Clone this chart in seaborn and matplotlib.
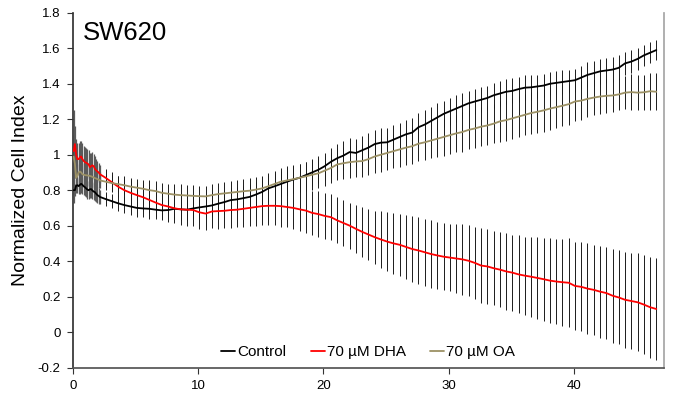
import numpy as np
import pandas as pd
import seaborn as sns
import matplotlib.pyplot as plt
from matplotlib.ticker import FuncFormatter, MultipleLocator

sns.set_theme(context='notebook', style='ticks')
plt.rcParams['font.family'] = ['Liberation Sans', 'DejaVu Sans']
plt.rcParams['axes.unicode_minus'] = False
plt.rcParams['text.color'] = 'black'
plt.rcParams['axes.labelcolor'] = 'black'

# first ~2 h: fast sweeps, afterwards one sweep every 30 min
time_early = [0.05, 0.15, 0.25, 0.35, 0.45, 0.55, 0.65, 0.75, 0.85, 0.95, 1.05,
              1.15, 1.25, 1.35, 1.45, 1.55, 1.65, 1.75, 1.85, 1.95, 2.05, 2.15]
time_late = np.arange(89) * 0.5 + 2.6

control_early = [0.80, 0.80, 0.825, 0.828, 0.823, 0.83, 0.836, 0.83, 0.822, 0.817, 0.81,
                 0.803, 0.80, 0.805, 0.806, 0.798, 0.792, 0.789, 0.78, 0.772, 0.768, 0.762]
dha_early = [1.02, 1.06, 1.00, 0.975, 0.975, 0.985, 0.99, 0.975, 0.965, 0.958, 0.955,
             0.95, 0.945, 0.93, 0.935, 0.94, 0.935, 0.92, 0.912, 0.905, 0.90, 0.89]
oa_early = [0.99, 0.95, 0.87, 0.88, 0.90, 0.905, 0.90, 0.89, 0.887, 0.885, 0.884,
            0.883, 0.882, 0.88, 0.878, 0.875, 0.872, 0.868, 0.866, 0.862, 0.86, 0.855]

control_early_err = [0.03, 0.035, 0.04, 0.045, 0.045, 0.05, 0.05, 0.05, 0.05, 0.05, 0.05,
                     0.05, 0.05, 0.05, 0.05, 0.05, 0.05, 0.05, 0.045, 0.045, 0.045, 0.04]
dha_early_err = [0.09, 0.10, 0.09, 0.09, 0.09, 0.09, 0.09, 0.09, 0.085, 0.085, 0.085,
                 0.08, 0.08, 0.08, 0.075, 0.075, 0.07, 0.07, 0.065, 0.06, 0.055, 0.05]
oa_early_err = [0.26, 0.08, 0.07, 0.07, 0.07, 0.07, 0.07, 0.065, 0.065, 0.065, 0.065,
                0.06, 0.06, 0.06, 0.06, 0.06, 0.055, 0.055, 0.055, 0.05, 0.05, 0.045]

control_late = [0.75, 0.738, 0.726, 0.716, 0.708, 0.70, 0.697, 0.695, 0.69,
                0.686, 0.688, 0.695, 0.692, 0.69, 0.697, 0.703, 0.708, 0.714, 0.724,
                0.733, 0.744, 0.748, 0.755, 0.762, 0.775, 0.79, 0.81, 0.822, 0.835,
                0.848, 0.86, 0.87, 0.885, 0.90, 0.915, 0.935, 0.96, 0.98, 0.995,
                1.015, 1.01, 1.025, 1.04, 1.06, 1.068, 1.07, 1.085, 1.10, 1.115,
                1.125, 1.155, 1.17, 1.19, 1.21, 1.23, 1.245, 1.26, 1.275, 1.29,
                1.30, 1.31, 1.32, 1.335, 1.345, 1.355, 1.36, 1.37, 1.378, 1.38,
                1.385, 1.39, 1.40, 1.405, 1.41, 1.415, 1.42, 1.435, 1.45, 1.46,
                1.47, 1.475, 1.48, 1.49, 1.515, 1.525, 1.54, 1.56, 1.575, 1.59]
oa_late = [0.848, 0.84, 0.834, 0.828, 0.82, 0.814, 0.808, 0.80, 0.795,
           0.785, 0.78, 0.775, 0.772, 0.77, 0.768, 0.766, 0.765, 0.772, 0.778,
           0.782, 0.786, 0.79, 0.794, 0.797, 0.803, 0.81, 0.822, 0.835, 0.848,
           0.855, 0.862, 0.87, 0.878, 0.887, 0.895, 0.91, 0.925, 0.945, 0.952,
           0.958, 0.962, 0.964, 0.975, 0.99, 1.0, 1.01, 1.02, 1.03, 1.04,
           1.048, 1.062, 1.07, 1.08, 1.09, 1.1, 1.11, 1.12, 1.128, 1.14,
           1.148, 1.158, 1.165, 1.175, 1.188, 1.195, 1.205, 1.215, 1.225, 1.235,
           1.242, 1.25, 1.26, 1.268, 1.276, 1.285, 1.30, 1.305, 1.315, 1.322,
           1.328, 1.332, 1.334, 1.34, 1.35, 1.353, 1.35, 1.352, 1.358, 1.355]
dha_late = [0.87, 0.845, 0.82, 0.80, 0.785, 0.772, 0.76, 0.745, 0.73,
            0.716, 0.708, 0.698, 0.692, 0.69, 0.688, 0.675, 0.668, 0.68, 0.682,
            0.684, 0.688, 0.69, 0.695, 0.70, 0.705, 0.71, 0.712, 0.712, 0.71,
            0.705, 0.70, 0.692, 0.685, 0.672, 0.665, 0.655, 0.648, 0.63, 0.615,
            0.60, 0.582, 0.565, 0.55, 0.535, 0.522, 0.51, 0.5, 0.492, 0.48,
            0.468, 0.46, 0.45, 0.44, 0.432, 0.425, 0.42, 0.415, 0.41, 0.402,
            0.39, 0.375, 0.37, 0.36, 0.352, 0.342, 0.335, 0.325, 0.318, 0.312,
            0.305, 0.298, 0.29, 0.285, 0.281, 0.278, 0.26, 0.255, 0.245, 0.238,
            0.228, 0.22, 0.205, 0.195, 0.182, 0.175, 0.168, 0.155, 0.14, 0.13]

control_late_err = [0.04, 0.04, 0.045, 0.045, 0.05, 0.05, 0.05, 0.055, 0.055,
                    0.055, 0.06, 0.06, 0.06, 0.06, 0.06, 0.065, 0.065, 0.065, 0.065,
                    0.065, 0.07, 0.07, 0.07, 0.07, 0.07, 0.07, 0.075, 0.075, 0.075,
                    0.075, 0.075, 0.075, 0.075, 0.075, 0.075, 0.075, 0.08, 0.08, 0.08,
                    0.08, 0.08, 0.08, 0.08, 0.08, 0.08, 0.08, 0.08, 0.08, 0.08,
                    0.08, 0.08, 0.08, 0.08, 0.08, 0.075, 0.075, 0.075, 0.075, 0.07,
                    0.07, 0.07, 0.07, 0.07, 0.07, 0.07, 0.07, 0.07, 0.07, 0.07,
                    0.065, 0.065, 0.065, 0.065, 0.065, 0.065, 0.065, 0.065, 0.07, 0.07,
                    0.07, 0.07, 0.07, 0.07, 0.065, 0.065, 0.06, 0.06, 0.06, 0.055]
oa_late_err = [0.045, 0.045, 0.045, 0.05, 0.05, 0.05, 0.05, 0.055, 0.055,
               0.055, 0.055, 0.06, 0.06, 0.06, 0.06, 0.06, 0.06, 0.065, 0.065,
               0.065, 0.065, 0.07, 0.07, 0.07, 0.07, 0.07, 0.075, 0.075, 0.075,
               0.08, 0.08, 0.08, 0.08, 0.085, 0.085, 0.085, 0.085, 0.09, 0.09,
               0.09, 0.09, 0.09, 0.09, 0.095, 0.095, 0.095, 0.095, 0.1, 0.1,
               0.1, 0.1, 0.1, 0.1, 0.105, 0.105, 0.105, 0.105, 0.11, 0.11,
               0.11, 0.11, 0.11, 0.11, 0.115, 0.115, 0.115, 0.115, 0.115, 0.12,
               0.12, 0.12, 0.12, 0.12, 0.115, 0.115, 0.11, 0.11, 0.105, 0.1,
               0.1, 0.095, 0.095, 0.09, 0.095, 0.1, 0.1, 0.1, 0.105, 0.105]
dha_late_err = [0.05, 0.055, 0.06, 0.065, 0.07, 0.07, 0.075, 0.075, 0.08,
                0.08, 0.085, 0.085, 0.09, 0.09, 0.09, 0.095, 0.095, 0.095, 0.1,
                0.1, 0.1, 0.1, 0.1, 0.1, 0.105, 0.105, 0.11, 0.11, 0.115,
                0.115, 0.12, 0.12, 0.125, 0.125, 0.13, 0.13, 0.13, 0.13, 0.13,
                0.13, 0.135, 0.14, 0.145, 0.15, 0.16, 0.165, 0.17, 0.175, 0.18,
                0.185, 0.19, 0.19, 0.19, 0.19, 0.19, 0.19, 0.195, 0.2, 0.2,
                0.205, 0.21, 0.21, 0.21, 0.21, 0.215, 0.215, 0.22, 0.22, 0.225,
                0.23, 0.235, 0.24, 0.24, 0.245, 0.25, 0.25, 0.25, 0.255, 0.255,
                0.26, 0.26, 0.265, 0.265, 0.27, 0.27, 0.275, 0.28, 0.285, 0.29]

groups = ['Control', '70 µM DHA', '70 µM OA']
colors = ['black', '#ff0000', '#9c9165']

series = {
    'Control': (control_early, control_late, control_early_err, control_late_err),
    '70 µM DHA': (dha_early, dha_late, dha_early_err, dha_late_err),
    '70 µM OA': (oa_early, oa_late, oa_early_err, oa_late_err),
}

frames = []
for name in groups:
    e, l, ee, le = series[name]
    frames.append(pd.DataFrame({'time': np.concatenate([time_early, time_late]),
                                'index': np.concatenate([e, l]),
                                'err': np.concatenate([ee, le]),
                                'dense': [True] * len(e) + [False] * len(l),
                                'group': name}))
df = pd.concat(frames, ignore_index=True)

fig = plt.figure(figsize=(6.76, 4.01), dpi=100)
ax = fig.add_axes([0.108, 0.0835, 0.874, 0.8845])

# error bars under the lines
for name in groups:
    sub = df[df['group'] == name]
    d = sub[sub['dense']]
    s = sub[~sub['dense']]
    ax.errorbar(d['time'], d['index'], yerr=d['err'], fmt='none',
                ecolor='#5a5a5a', elinewidth=0.9, capsize=0, zorder=1)
    ax.errorbar(s['time'], s['index'], yerr=s['err'], fmt='none',
                ecolor='#1a1a1a', elinewidth=0.7, capsize=0, zorder=1)

sns.lineplot(data=df, x='time', y='index', hue='group', hue_order=groups,
             palette=colors, linewidth=1.3, errorbar=None, ax=ax, zorder=3)

ax.set_xlim(0, 47.2)
ax.set_ylim(-0.2, 1.8)
ax.set_xticks([0, 10, 20, 30, 40])
ax.yaxis.set_major_locator(MultipleLocator(0.2))
ax.yaxis.set_major_formatter(FuncFormatter(lambda v, p: f'{round(v, 2) + 0.0:g}'))
ax.set_xlabel('')
ax.set_ylabel('Normalized Cell Index', fontsize=14, labelpad=6, color='black')

ax.spines['top'].set_visible(False)
ax.spines['right'].set_color('#a6a6a6')
ax.spines['left'].set_color('#333333')
ax.spines['bottom'].set_color('#555555')
ax.tick_params(axis='both', direction='out', length=4, width=0.8, color='#333333',
               labelsize=9.5, labelcolor='black', pad=5)

ax.text(0.017, 0.923, 'SW620', transform=ax.transAxes, fontsize=18.5,
        ha='left', va='baseline', color='black')

handles, labels = ax.get_legend_handles_labels()
leg = ax.legend(handles, labels, loc='lower center', bbox_to_anchor=(0.5, -0.015), ncol=3,
                frameon=False, fontsize=11, handlelength=0.9, handletextpad=0.15,
                columnspacing=1.6)
for t in leg.get_texts():
    t.set_color('black')

fig.savefig('out.png', dpi=100)
